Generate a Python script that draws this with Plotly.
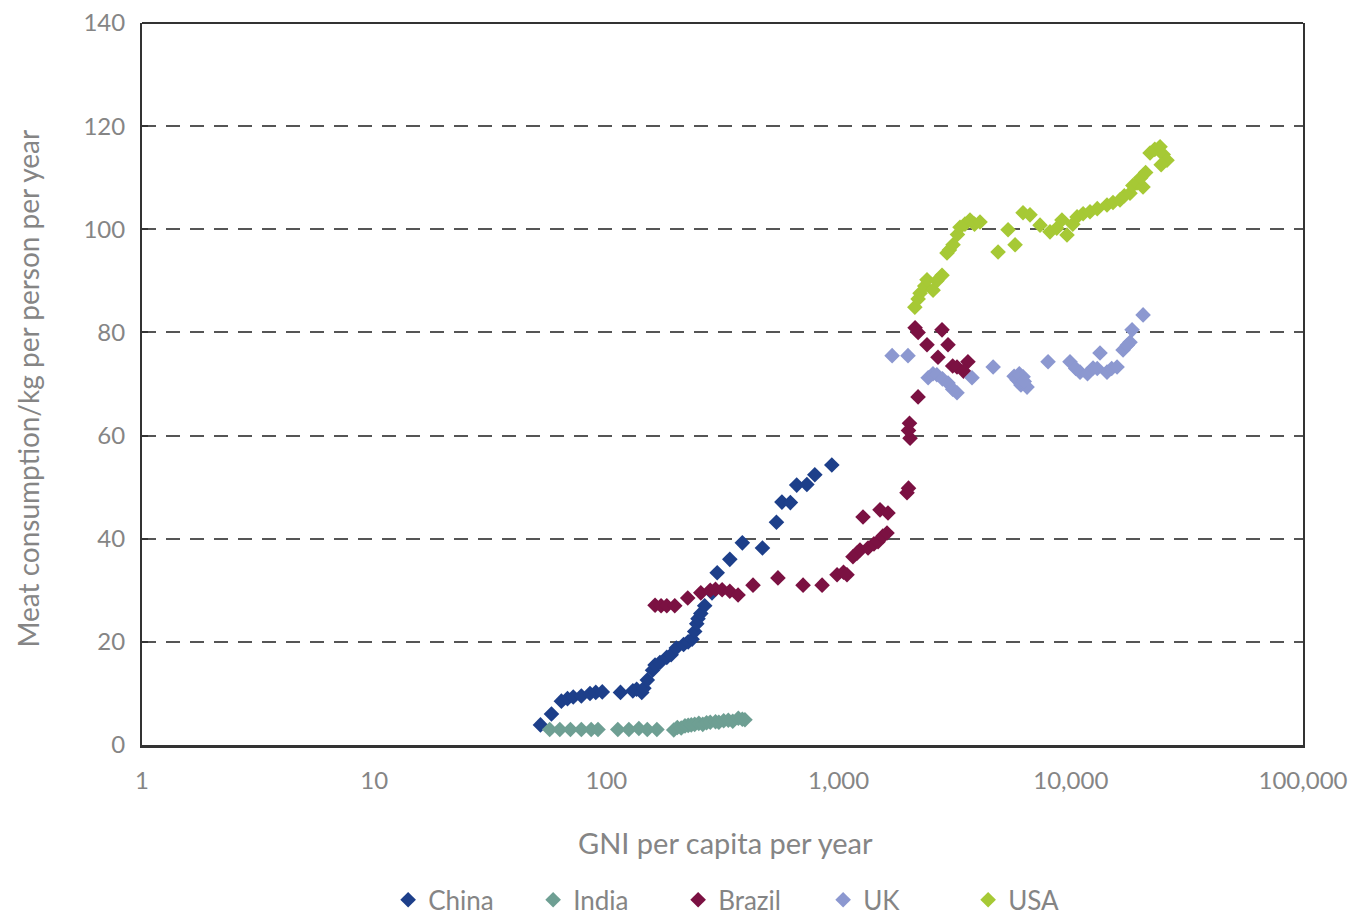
import plotly.graph_objects as go

# GNI per capita per year (US$) and meat consumption (kg per person per year)
china_gni = [52, 58, 64, 68, 72, 78, 85, 90, 96, 115, 130, 135, 142, 145, 150, 158, 162,
             170, 182, 190, 200, 215, 225, 234, 240, 245, 248, 255, 265, 285, 300, 340,
             385, 470, 540, 570, 620, 660, 730, 790, 935]
china_meat = [3.9, 6.0, 8.5, 9.0, 9.3, 9.5, 10.0, 10.2, 10.3, 10.2, 10.5, 10.8, 10.2, 11.0,
              12.6, 14.5, 15.5, 16.0, 17.0, 17.5, 18.8, 19.5, 20.0, 20.5, 22.0, 23.5, 24.5,
              25.5, 27.0, 29.5, 33.4, 36.0, 39.2, 38.2, 43.2, 47.1, 47.0, 50.4, 50.5, 52.4, 54.3]

india_gni = [57, 63, 70, 78, 86, 92, 112, 125, 138, 150, 165, 195, 202, 210, 218, 225, 232,
             240, 250, 260, 270, 280, 295, 305, 320, 335, 350, 370, 385, 395]
india_meat = [3.0, 3.0, 3.0, 3.0, 3.0, 3.0, 3.0, 3.0, 3.2, 3.0, 3.0, 2.9, 3.4, 3.3, 3.7, 3.8,
              3.9, 4.0, 4.2, 4.0, 4.3, 4.4, 4.5, 4.4, 4.7, 4.8, 4.6, 5.2, 5.0, 4.9]

brazil_gni = [162, 172, 182, 197, 224, 255, 280, 295, 315, 340, 369, 428, 548, 703, 849, 985,
              1050, 1087, 1153, 1200, 1236, 1339, 1420, 1479, 1550, 1616, 1274, 1508, 1632,
              1971, 2000, 2031, 2000, 2020, 2199, 2135, 2200, 2403, 2789, 2679, 2960, 3100,
              3235, 3606, 3450]
brazil_meat = [27.1, 27.0, 27.0, 27.0, 28.5, 29.5, 30.0, 30.2, 30.1, 29.8, 29.1, 31.0, 32.4,
               31.0, 31.0, 33.0, 33.5, 33.0, 36.5, 37.2, 37.8, 38.2, 39.0, 39.4, 40.5, 41.1,
               44.2, 45.6, 45.0, 48.9, 49.8, 59.5, 61.0, 62.4, 67.5, 80.9, 80.0, 77.6, 80.5,
               75.2, 77.6, 73.5, 73.3, 74.3, 72.5]

uk_gni = [1700, 1990, 2430, 2550, 2650, 2800, 2960, 3100, 3235, 3755, 4630, 5700, 5870, 6000,
          6230, 6100, 6480, 6300, 7980, 9920, 10500, 10960, 11800, 12470, 13360, 13000, 14320,
          15000, 15820, 16790, 17500, 17990, 18360, 20480]
uk_meat = [75.5, 75.5, 71.2, 72.0, 71.8, 71.0, 70.2, 69.0, 68.3, 71.2, 73.3, 71.5, 70.8, 72.0,
           71.4, 69.8, 69.4, 70.5, 74.3, 74.3, 73.0, 72.3, 72.0, 73.1, 76.0, 73.0, 72.3, 73.0,
           73.3, 76.6, 77.5, 78.1, 80.5, 83.4]

usa_gni = [2130, 2200, 2243, 2350, 2403, 2552, 2650, 2789, 2930, 3000, 3111, 3250, 3334, 3500,
           3681, 3850, 4064, 4861, 5369, 5754, 6227, 6673, 7371, 8135, 8700, 9160, 9630,
           10200, 10640, 11300, 12100, 13000, 14320, 15200, 16290, 17000, 17990, 18500, 19280,
           20470, 20000, 21000, 21940, 23000, 24230, 25000, 25960, 24500]
usa_meat = [84.9, 86.5, 87.6, 89.0, 90.2, 88.2, 90.0, 91.1, 95.4, 96.0, 97.0, 99.0, 100.4,
            101.0, 101.8, 101.0, 101.4, 95.6, 99.9, 97.0, 103.2, 102.8, 100.8, 99.5, 100.2,
            101.8, 98.9, 101.0, 102.4, 103.0, 103.4, 104.0, 104.7, 105.2, 105.7, 106.5, 107.0,
            108.5, 109.0, 108.2, 110.0, 111.0, 114.8, 115.5, 116.0, 114.5, 113.4, 112.5]

x_tick_vals = [1, 10, 100, 1000, 10000, 100000]
x_tick_text = ["1", "10", "100", "1,000", "10,000", "100,000"]
y_tick_vals = [0, 20, 40, 60, 80, 100, 120, 140]

series = [
    ("China", china_gni, china_meat, "#1d3f8a"),
    ("India", india_gni, india_meat, "#6e9f93"),
    ("Brazil", brazil_gni, brazil_meat, "#7b1142"),
    ("UK", uk_gni, uk_meat, "#8c98d0"),
    ("USA", usa_gni, usa_meat, "#a6c935"),
]

FONT = "Lato"
TEXT_GREY = "#858585"

fig = go.Figure()
for name, xs, ys, col in series:
    fig.add_trace(go.Scatter(
        x=xs, y=ys, name=name, mode="markers",
        marker=dict(symbol="diamond", size=12, color=col, line=dict(width=0)),
    ))

fig.update_layout(
    width=1362, height=919,
    margin=dict(l=142, r=59, t=23, b=174, autoexpand=False),
    paper_bgcolor="white", plot_bgcolor="white",
    font=dict(family=FONT, color=TEXT_GREY, size=24),
    showlegend=True,
    legend=dict(
        orientation="h", x=0.212, xanchor="left", y=-0.182, yanchor="top",
        font=dict(family=FONT, size=26, color=TEXT_GREY),
        itemwidth=30, tracegroupgap=0,
        entrywidth=100, entrywidthmode="pixels",
    ),
    xaxis=dict(
        type="log", range=[0, 5],
        tickvals=x_tick_vals, ticktext=x_tick_text,
        showgrid=False, zeroline=False,
        showline=True, linecolor="#333333", linewidth=3,
        ticks="", ticklabelstandoff=12,
        tickfont=dict(family=FONT, size=24, color=TEXT_GREY),
    ),
    yaxis=dict(
        range=[0, 140], tickvals=y_tick_vals,
        showgrid=True, gridcolor="#555555", gridwidth=2, griddash="14px,10px",
        zeroline=False,
        showline=True, linecolor="#333333", linewidth=2, mirror=True,
        ticks="inside", ticklen=6, tickcolor="#333333", tickwidth=1.5,
        ticklabelstandoff=10,
        tickfont=dict(family=FONT, size=24, color=TEXT_GREY),
    ),
    shapes=[
        dict(type="line", xref="paper", yref="paper", x0=0, x1=1, y0=1, y1=1,
             line=dict(color="#333333", width=2)),
    ],
    annotations=[
        dict(text="GNI per capita per year", xref="paper", yref="paper",
             x=0.503, y=-0.135, xanchor="center", yanchor="middle", showarrow=False,
             font=dict(family=FONT, size=29, color=TEXT_GREY)),
        dict(text="Meat consumption/kg per person per year", xref="paper", yref="paper",
             x=-0.098, y=0.494, xanchor="center", yanchor="middle", showarrow=False,
             textangle=-90, font=dict(family=FONT, size=28, color=TEXT_GREY)),
    ],
)

fig.write_html("out.html")
